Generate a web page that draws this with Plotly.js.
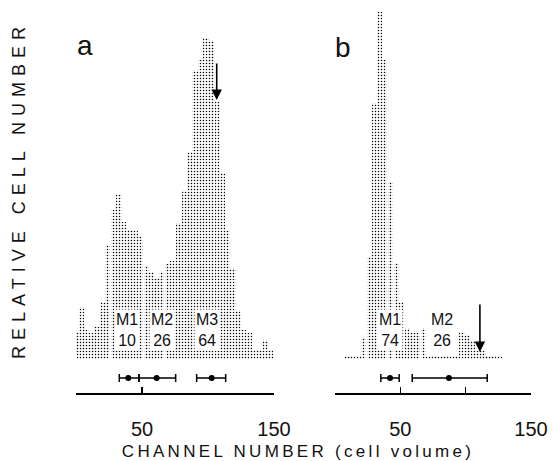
<!DOCTYPE html>
<html><head><meta charset="utf-8">
<script src="https://cdn.plot.ly/plotly-3.0.1.min.js"></script>
<style>html,body{margin:0;padding:0;background:#fff}#chart{width:552px;height:461px}</style>
</head><body><div id="chart"></div>
<script>
// ---- data ----
const channelsA = [0.5, 4.3, 8.1, 11.9, 15.9, 20.2, 24, 28.3, 32.6, 36.4, 40.9, 44.7, 49, 53.6, 57.3, 61.1, 64.9, 69.5, 73.5, 78, 82, 85.8, 90.2, 94.5, 98.5, 102.8, 107, 111.1, 114.8, 118.9, 123, 126.9, 131.1, 135.4, 139.4, 143.4, 147.5, 151.6];
const countsA   = [26, 52, 29, 26, 32, 57, 114, 149, 165, 137, 129, 128, 123, 94, 87, 81, 88, 95, 98, 136, 169, 207, 289, 299, 322, 319, 257, 186, 129, 91, 49, 29, 26, 9, 9, 19, 9, 3];
const channelsB = [9.4, 13.5, 17.8, 21.8, 26.2, 30.2, 34, 38, 42.5, 47, 51, 55.5, 59.3, 63.3, 67.6, 71.9, 76.5, 80.3, 84.9, 89.3, 93.1, 97.2, 101.4, 105.2, 109.4, 113.2, 117.8, 122.4, 126.8];
const countsB   = [3, 3, 3, 22, 103, 256, 348, 299, 178, 96, 57, 31, 26, 26, 31, 3, 3, 3, 3, 3, 3, 27, 24, 18, 8, 8, 3, 3, 3];

const meansA = [39.6, 61.1, 102.8];
const errPlusA = [8.1, 14.4, 10.6];
const errMinusA = [6.8, 13.4, 11.4];
const meansB = [42.1, 87.2];
const errPlusB = [7, 29.3];
const errMinusB = [7, 28.1];

const modesA = ['M1', 'M2', 'M3'];
const percentA = ['10', '26', '64'];
const modePosA = [38.6, 65.5, 99.6];
const modesB = ['M1', 'M2'];
const percentB = ['74', '26'];
const modePosB = [42, 81.6];

const arrowA = {x: 106.6, tip: 259, len: 38};
const arrowB = {x: 110.9, tip: 7, len: 49};

const tickValsA = [0, 50, 150];
const tickTextA = ['', '50', '150'];
const tickValsB = [0, 50, 100, 150];
const tickTextB = ['', '50', '', '150'];

const panelLetters = ['a', 'b'];
const yTitle = 'RELATIVE CELL NUMBER';
const xTitle = 'CHANNEL NUMBER (cell volume)';

// ---- styling ----
const FONT = 'Liberation Sans, Arial, sans-serif';
const BAR_W = 4.1;
const ERR_ROW = -19;
const LABEL_ROW = 29;

const pattern = {shape: '.', size: 3, solidity: 0.2, fgcolor: '#000', bgcolor: '#fff', fillmode: 'replace'};

function bars(x, y, xa, ya) {
  return {type: 'bar', x: x, y: y, width: BAR_W, xaxis: xa, yaxis: ya,
    marker: {color: '#fff', line: {width: 0}, pattern: pattern}, hoverinfo: 'skip', showlegend: false};
}
function errs(m, p, n, xa, ya) {
  return {type: 'scatter', mode: 'markers', x: m, y: m.map(() => ERR_ROW), xaxis: xa, yaxis: ya,
    marker: {color: '#000', size: 6},
    error_x: {type: 'data', symmetric: false, array: p, arrayminus: n, color: '#000', thickness: 1.5, width: 4},
    cliponaxis: false, showlegend: false, hoverinfo: 'skip'};
}

const data = [
  bars(channelsA, countsA, 'x', 'y'),
  bars(channelsB, countsB, 'x2', 'y2'),
  errs(meansA, errPlusA, errMinusA, 'x', 'y'),
  errs(meansB, errPlusB, errMinusB, 'x2', 'y2')
];

const xBase = {range: [0, 150], showline: true, linecolor: '#000', linewidth: 1.5, ticks: 'inside', ticklen: 6,
  tickwidth: 1.5, tickcolor: '#000', showgrid: false, zeroline: false, fixedrange: true,
  tickfont: {family: FONT, size: 20, color: '#111'}, ticklabelstandoff: 17, tickmode: 'array'};
const yBase = {range: [-34, 354], visible: false, fixedrange: true};

const ann = [];
modesA.forEach((m, i) => ann.push({xref: 'x', yref: 'y', x: modePosA[i], y: LABEL_ROW, text: m + '<br>' + percentA[i],
  showarrow: false, bgcolor: '#fff', borderpad: 1, font: {family: FONT, size: 16, color: '#111'}}));
modesB.forEach((m, i) => ann.push({xref: 'x2', yref: 'y2', x: modePosB[i], y: LABEL_ROW, text: m + '<br>' + percentB[i],
  showarrow: false, bgcolor: '#fff', borderpad: 1, font: {family: FONT, size: 16, color: '#111'}}));
[[arrowA, 'x', 'y'], [arrowB, 'x2', 'y2']].forEach(([a, xr, yr]) => ann.push({xref: xr, yref: yr, x: a.x, y: a.tip,
  text: '', showarrow: true, ax: 0, ay: -a.len, arrowhead: 2, arrowsize: 1.3, arrowwidth: 1.6, arrowcolor: '#000', standoff: 0}));
ann.push({xref: 'x', yref: 'y', x: 6.8, y: 314, text: panelLetters[0], showarrow: false, font: {family: FONT, size: 28, color: '#111'}});
ann.push({xref: 'x2', yref: 'y2', x: 6.1, y: 312, text: panelLetters[1], showarrow: false, font: {family: FONT, size: 28, color: '#111'}});
ann.push({xref: 'paper', yref: 'paper', x: 19 / 552, y: (393 - 190) / 388, xanchor: 'center', yanchor: 'middle',
  text: yTitle, textangle: -90, showarrow: false, font: {family: FONT, size: 18, color: '#111'}});
ann.push({xref: 'paper', yref: 'paper', x: 298 / 552, y: (393 - 452) / 388, xanchor: 'center', yanchor: 'middle',
  text: xTitle, showarrow: false, font: {family: FONT, size: 17, color: '#111'}});

const layout = {
  width: 552, height: 461, margin: {l: 0, r: 0, t: 5, b: 68},
  paper_bgcolor: '#fff', plot_bgcolor: '#fff', bargap: 0, showlegend: false,
  xaxis: Object.assign({}, xBase, {domain: [76 / 552, 274 / 552], anchor: 'y', tickvals: tickValsA, ticktext: tickTextA}),
  xaxis2: Object.assign({}, xBase, {domain: [335 / 552, 531 / 552], anchor: 'y2', tickvals: tickValsB, ticktext: tickTextB}),
  yaxis: Object.assign({}, yBase, {anchor: 'x'}),
  yaxis2: Object.assign({}, yBase, {anchor: 'x2'}),
  annotations: ann
};

Plotly.newPlot('chart', data, layout, {displayModeBar: false, staticPlot: true}).then(() => {
  document.querySelectorAll('.annotation-text').forEach(t => {
    if (t.textContent === yTitle) t.style.letterSpacing = '6px';
    if (t.textContent === xTitle) t.style.letterSpacing = '3.3px';
  });
});
</script></body></html>
